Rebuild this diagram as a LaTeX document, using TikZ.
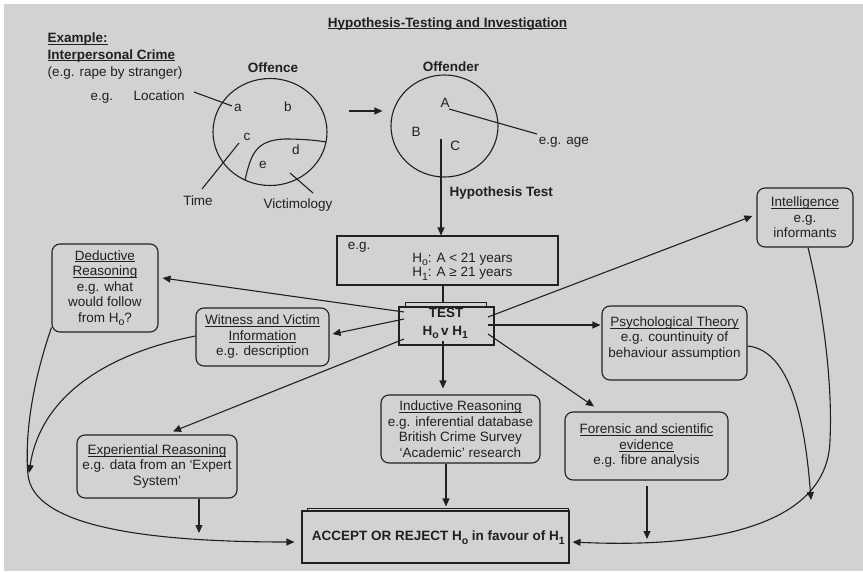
\documentclass[tikz,border=0pt]{standalone}
\usepackage{fontspec}
\setmainfont{Liberation Sans}
\usetikzlibrary{arrows.meta,calc,shapes.geometric}
\definecolor{panel}{RGB}{209,210,212}
\definecolor{ink}{RGB}{35,31,32}
% text size used throughout
\newcommand\fs{\fontsize{13.5}{15.5}\selectfont}
% underline drawn at a fixed depth below the baseline
\newcommand\undl[1]{\setbox0\hbox{#1}\rlap{\rule[-2.4pt]{\wd0}{1.1pt}}\box0}
% low, fairly large subscript
\newcommand\sbs[1]{\raisebox{-3.6pt}{\fontsize{10.5}{10}\selectfont #1}}
\tikzset{
  every node/.style={inner sep=0pt, font=\fs, text=ink},
  lbl/.style={anchor=base},
  rbox/.style={draw=ink, rounded corners=8pt, align=center},
  sqbox/.style={draw=ink},
  arr/.style={-{Triangle[length=8pt,width=7pt]}},
}
\begin{document}
\begin{tikzpicture}[x=1pt,y=-1pt,line width=1.1pt,draw=ink]
\useasboundingbox (0,0) rectangle (863,571);
\fill[panel] (4,4) rectangle (863,571);

% heading and example
\node[lbl] (title) at (447.5,27) {\bfseries\undl{Hypothesis-Testing and Investigation}};
\node[anchor=base west] (ex) at (47,42.5) {\bfseries\undl{Example:}};
\node[anchor=base west] (ipc) at (47,59) {\bfseries\undl{Interpersonal Crime}};
\node[anchor=base west] (rape) at (47,76) {(e.g. rape by stranger)};
\node[anchor=base west] (eg1) at (90,100.5) {e.g.};
\node[anchor=base west] (loc) at (133,100.5) {Location};

% offence circle
\node[lbl] (offlbl) at (273,72.5) {\bfseries Offence};
\node[draw, ellipse, minimum width=114pt, minimum height=107pt] (offence) at (270,132) {};
\node[lbl] (la) at (238,111.5) {a};
\node[lbl] (lb) at (288,111.5) {b};
\node[lbl] (lc) at (247,140) {c};
\node[lbl] (ld) at (296,154) {d};
\node[lbl] (le) at (263,168) {e};
\node[lbl] (time) at (198,205) {Time};
\node[lbl] (vict) at (298,208.5) {Victimology};
\coordinate (locA) at (194,92);  \coordinate (locB) at (232,106);
\coordinate (timA) at (239,143); \coordinate (timB) at (202,189);
\coordinate (vicA) at (290,173); \coordinate (vicB) at (313,193);
\draw (locA) -- (locB);
\draw (timA) -- (timB);
\draw (vicA) -- (vicB);
\draw (245,180) .. controls (251,155) and (255,140) .. (285,139)
      .. controls (300,139) and (315,140) .. (326,142);

% offender circle
\node[lbl] (offdlbl) at (451,71) {\bfseries Offender};
\node[draw, ellipse, minimum width=107pt, minimum height=102pt] (offender) at (444.5,126) {};
\node[lbl] (uA) at (445,107.3) {A};
\node[lbl] (uB) at (416,136) {B};
\node[lbl] (uC) at (455.3,150.5) {C};
\node[anchor=base west] (age) at (538.3,144) {e.g. age};
\coordinate (ageA) at (449,109); \coordinate (ageB) at (537,134);
\draw (ageA) -- (ageB);
\draw[arr] ($(offence.east)+(21,-21)$) -- ($(offender.west)+(-8,-15)$);

% hypotheses
\node[anchor=base west] (htest) at (449,196.5) {\bfseries Hypothesis Test};
\node[sqbox, minimum width=221pt, minimum height=49pt] (hyp) at (447.5,260.5) {};
\node[anchor=base west] (hypeg) at (347.3,249) {e.g.};
\node[anchor=base west] (h0) at (411.7,262.3) {H\sbs{o}: A < 21 years};
\node[anchor=base west] (h1) at (411.7,276.7) {H\sbs{1}: A ≥ 21 years};
\draw[arr] ($(offender.center)+(-3.5,13)$) -- ($(hyp.north)+(-6.5,0)$);

% test box
\node[sqbox, minimum width=95pt, minimum height=38pt] (test) at (446.5,326) {};
\draw ($(test.north west)+(7,0)$) -- ++(0,-4) -- ($(test.north east)+(-8,-4)$) -- ++(0,4);
\node[lbl] (testt) at (446,317.3) {\bfseries TEST};
\node[lbl] (hvh) at (445.3,335) {\bfseries H\sbs{o}\,v H\sbs{1}};
\draw ($(hyp.south)+(-4.5,0)$) -- ($(test.north)+(-3.5,-4)$);

% sources of evidence
\node[rbox, minimum width=106pt, minimum height=88pt] (ded) at (105,288)
  {\undl{Deductive}\\\undl{Reasoning}\\e.g. what\\would follow\\from H\sbs{o}?};
\node[rbox, minimum width=133pt, minimum height=58pt] (wit) at (262.5,337)
  {\undl{Witness and Victim}\\\undl{Information}\\e.g. description};
\node[rbox, minimum width=96pt, minimum height=59pt] (intel) at (805,217.5)
  {\undl{Intelligence}\\e.g.\\informants};
\node[rbox, minimum width=145pt, minimum height=74pt] (psy) at (674.5,343)
  {\undl{Psychological Theory}\\e.g. countinuity of\\behaviour assumption\\[-3.5pt]\mbox{}};
\node[rbox, minimum width=159pt, minimum height=68pt] (ind) at (460.5,429)
  {\undl{Inductive Reasoning}\\e.g. inferential database\\British Crime Survey\\‘Academic’ research};
\node[rbox, minimum width=163pt, minimum height=68pt] (fore) at (646.5,446)
  {\undl{Forensic and scientific}\\\undl{evidence}\\e.g. fibre analysis};
\node[rbox, minimum width=160pt, minimum height=63pt] (exp) at (157,466.5)
  {\undl{Experiential Reasoning}\\e.g. data from an ‘Expert\\System’};

% decision box
\node[sqbox, minimum width=267pt, minimum height=52pt] (acc) at (435.5,537) {};
\draw ($(acc.north west)+(6,0)$) -- ++(0,-2) -- ($(acc.north east)+(-1,-2)$) -- ++(0,2);
\node[lbl] (acct) at (438.3,540.7) {\bfseries ACCEPT OR REJECT H\sbs{o} in favour of H\sbs{1}};

% arrows out of the test
\draw[arr] ($(test.center)+(-42.5,-14)$) -- ($(ded.east)+(4,-10)$);
\draw[arr] ($(test.center)+(-42.5,-7)$) -- ($(wit.east)+(3,-3)$);
\draw[arr] ($(test.center)+(-42.5,13)$) -- ($(exp.north)+(16,-3)$);
\draw[arr] ($(test.center)+(-3.5,15)$) -- ($(ind.north)+(-17.5,-6)$);
\draw[arr] ($(test.center)+(41.5,8)$) -- ($(fore.north)+(-52.5,-5)$);
\draw[arr] ($(test.center)+(41.5,-1)$) -- ($(psy.west)+(-1,-18)$);
\draw[arr] ($(test.center)+(41.5,-9)$) -- ($(intel.west)+(-4,-1.5)$);

% arrows towards the decision
\coordinate (expend) at (199,533);
\coordinate (forend) at (647,539);
\coordinate (witend) at (29,473);
\coordinate (psyend) at (811,500);
\draw[arr] ($(ind.south)+(-14.5,0)$) -- ($(acc.north)+(10.5,-4)$);
\draw[arr] ($(exp.south)+(42,0)$) -- (expend);
\draw[arr] ($(fore.south)+(0.5,5)$) -- (forend);
\draw[arr] ($(ded.south west)+(0,-5)$) .. controls (30,390) and (25,440) .. (28,475)
      .. controls (33,520) and (120,542) .. ($(acc.west)+(-7,5)$);
\draw[arr] ($(wit.west)+(0,-1)$) .. controls (100,355) and (40,400) .. (witend);
\draw[arr] ($(psy.east)+(0,3)$) .. controls (790,350) and (805,420) .. (psyend);
\draw[arr] ($(intel.south)+(3,0)$) .. controls (828,330) and (832,400) .. (830,440)
      .. controls (828,530) and (700,548) .. ($(acc.east)+(3,5)$);
\end{tikzpicture}
\end{document}
